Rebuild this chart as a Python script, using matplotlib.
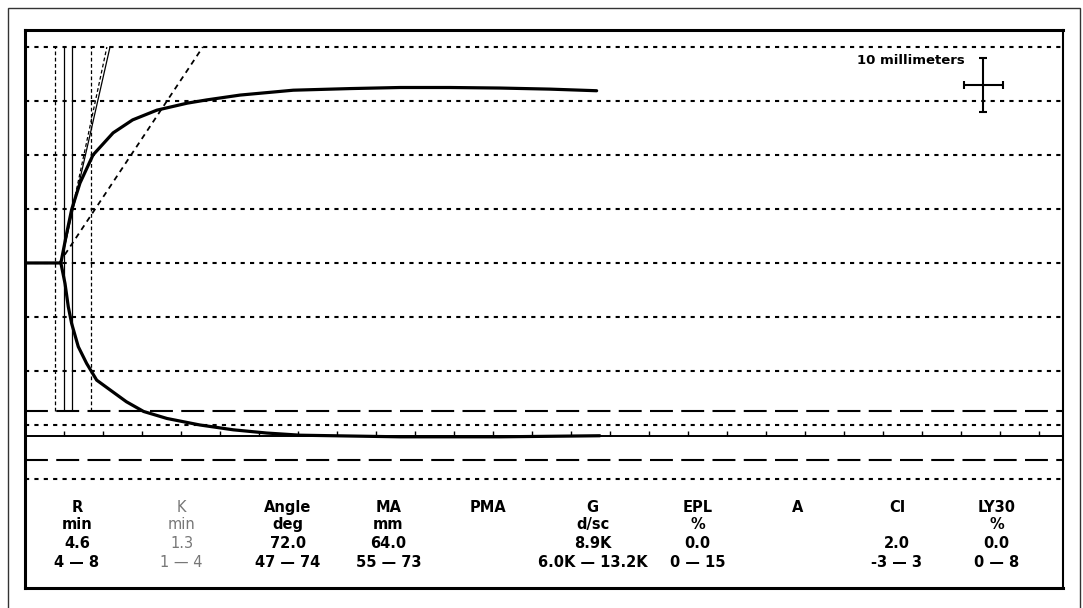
import matplotlib
matplotlib.use("Agg")
import matplotlib.pyplot as plt
from matplotlib.patches import Rectangle

# ---- trace data (time in min, amplitude in mm) ----
upper_t = [0.0, 4.6, 5.35, 5.99, 7.05, 8.72, 11.3, 13.8, 16.9, 20.8, 23.3, 27.6, 34.4,
           41.7, 48.1, 54.5, 60.9, 67.3, 73.3]
upper_a = [0.0, 0.0, 5.56, 9.94, 14.8, 20.0, 24.1, 26.5, 28.3, 29.6, 30.2, 31.1, 32.0,
           32.3, 32.5, 32.5, 32.4, 32.2, 31.9]
lower_t = [4.6, 5.13, 5.55, 5.98, 6.83, 7.9, 9.19, 10.9, 13.0, 15.2, 18.2, 22.4, 26.7,
           31.0, 35.3, 48.1, 60.9, 73.7]
lower_a = [0.0, -3.8, -8.1, -11.2, -15.5, -18.6, -21.7, -23.5, -25.7, -27.5, -28.8, -30.0,
           -30.9, -31.5, -31.9, -32.2, -32.2, -32.0]

grid_levels = [40, 30, 20, 10, 0, -10, -20, -30, -40]
ma_range = [-27.5, -36.5]
base_level = -32
time_ticks = list(range(5, 135, 5))

# vertical markers (min)
dashed_marks = [3.9, 8.5]
solid_marks = [5.0, 6.0]

# tangent lines: (t0, t1), (a0, a1)
tan_solid = ([4.6, 10.9], [0.0, 40.0])
tan_dashed = ([4.6, 10.5], [0.0, 40.0])
angle_line = ([4.4, 22.8], [0.0, 40.0])

# parameter table
labels = ["R", "K", "Angle", "MA", "PMA", "G", "EPL", "A", "CI", "LY30"]
units = ["min", "min", "deg", "mm", "", "d/sc", "%", "", "", "%"]
values = ["4.6", "1.3", "72.0", "64.0", "", "8.9K", "0.0", "", "2.0", "0.0"]
ranges = ["4 — 8", "1 — 4", "47 — 74", "55 — 73", "", "6.0K — 13.2K", "0 — 15", "", "-3 — 3", "0 — 8"]

fig = plt.figure(figsize=(10.83, 6.08), dpi=100)
fig.patches.append(Rectangle((8 / 1083, -0.02), 1072 / 1083, 1.02 - 8 / 608,
                             transform=fig.transFigure, fill=False, lw=1.0, ec="#333333"))
ax = fig.add_axes([25 / 1083, 20 / 608, 1038 / 1083, 558 / 608])
ax.set_xlim(0, 133.1)
ax.set_ylim(-60.2, 43.15)
ax.set_xticks([])
ax.set_yticks([])
for s in ["left", "bottom", "top"]:
    ax.spines[s].set_linewidth(2.2)
ax.spines["right"].set_linewidth(1.5)

dot = (0, (2, 2.5))
for g in grid_levels:
    ax.axhline(g, color="black", lw=1.5, ls=dot, zorder=1)
for m in ma_range:
    ax.axhline(m, color="black", lw=1.5, ls=(0, (11, 4)), zorder=1)
ax.axhline(base_level, color="black", lw=1.4, zorder=2)
ax.vlines(time_ticks, base_level, base_level + 0.8, color="black", lw=1.0)

ax.vlines(dashed_marks, ma_range[0], 40, color="black", lw=0.9, ls=(0, (3, 2)))
ax.vlines(solid_marks, ma_range[0], 40, color="black", lw=0.9)

ax.plot(*tan_solid, color="black", lw=0.9)
ax.plot(*tan_dashed, color="black", lw=0.9, ls=(0, (3, 2)))
ax.plot(*angle_line, color="black", lw=1.3, ls=(0, (3, 2.5)))

ax.plot(upper_t, upper_a, color="black", lw=2.3, solid_joinstyle="round",
        solid_capstyle="round", zorder=3)
ax.plot(lower_t, lower_a, color="black", lw=2.3, solid_joinstyle="round",
        solid_capstyle="round", zorder=3)

# scale marker
ax.errorbar(122.9, 33.0, xerr=2.5, yerr=5.0, color="black", lw=1.5, capsize=3, capthick=1.5)
ax.text(0.9056, 0.946, "10 millimeters", transform=ax.transAxes, ha="right", va="center",
        fontsize=9.5, fontweight="bold")

col_x = [0.050, 0.151, 0.253, 0.350, 0.446, 0.547, 0.648, 0.744, 0.840, 0.936]
row_y = [0.145, 0.113, 0.079, 0.045]
for i, x in enumerate(col_x):
    is_k = labels[i] == "K"
    for y, txt in zip(row_y, [labels[i], units[i], values[i], ranges[i]]):
        if txt:
            ax.text(x, y, txt, transform=ax.transAxes, ha="center", va="center",
                    fontsize=10.5, color="#777777" if is_k else "black",
                    fontweight="normal" if is_k else "bold")

fig.savefig("out.png", dpi=100)
